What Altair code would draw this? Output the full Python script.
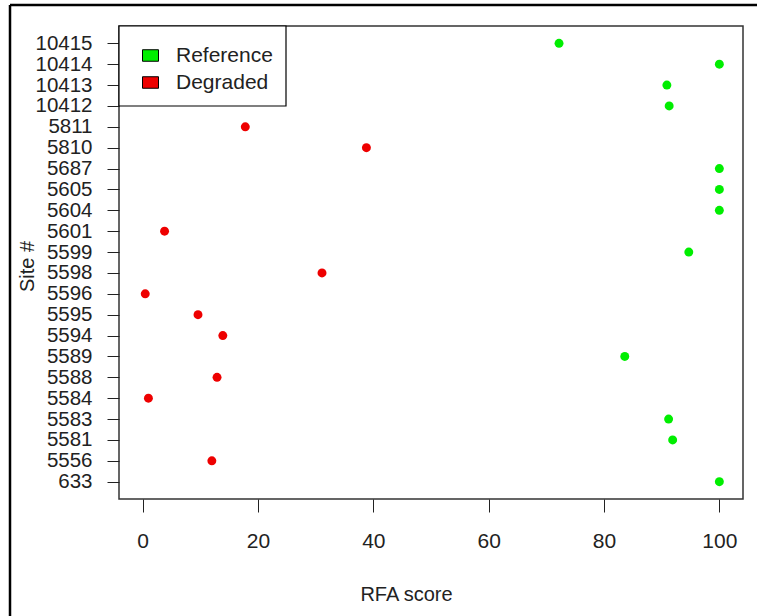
import altair as alt
import pandas as pd

# Sites listed top to bottom, with RFA score and condition class
sites = ["10415", "10414", "10413", "10412", "5811", "5810", "5687", "5605",
         "5604", "5601", "5599", "5598", "5596", "5595", "5594", "5589",
         "5588", "5584", "5583", "5581", "5556", "633"]
scores = [72.2, 100, 90.9, 91.3, 17.8, 38.8, 100, 100,
          100, 3.8, 94.7, 31.1, 0.45, 9.6, 13.9, 83.6,
          12.9, 1.0, 91.2, 91.9, 12.0, 100]
groups = ["Reference", "Reference", "Reference", "Reference", "Degraded", "Degraded",
          "Reference", "Reference", "Reference", "Degraded", "Reference", "Degraded",
          "Degraded", "Degraded", "Degraded", "Reference", "Degraded", "Degraded",
          "Reference", "Reference", "Degraded", "Reference"]

x_ticks = [0, 20, 40, 60, 80, 100]
legend_labels = ["Reference", "Degraded"]
legend_colors = ["#00ee00", "#ee0000"]

df = pd.DataFrame({"site": sites, "score": scores, "group": groups})

FONT = "Liberation Sans"

points = alt.Chart(df).mark_circle(size=80, opacity=1).encode(
    x=alt.X(
        "score:Q",
        scale=alt.Scale(domain=[-4.1, 104.1], nice=False, zero=False),
        axis=alt.Axis(
            values=x_ticks, title="RFA score", grid=False, domain=False,
            tickSize=13, tickColor="#222", labelPadding=18,
            labelFontSize=21, labelColor="#222", labelFont=FONT,
            titleFontSize=20, titleFont=FONT, titleColor="#222", titleFontWeight="normal",
            titleX=287, titleY=95, titleBaseline="middle", titleAnchor="middle",
        ),
    ),
    y=alt.Y(
        "site:N",
        sort=sites,
        scale=alt.Scale(type="point", padding=0.83),
        axis=alt.Axis(
            title="Site #", grid=False, domain=False,
            tickSize=12, tickColor="#222", labelPadding=15,
            labelFontSize=20.5, labelColor="#222", labelFont=FONT,
            labelBaseline="middle", labelOverlap=False,
            titleFontSize=20, titleFont=FONT, titleColor="#222", titleFontWeight="normal",
            titleAngle=270, titleX=-92, titleY=240, titleBaseline="middle",
            titleAlign="center",
        ),
    ),
    color=alt.Color(
        "group:N",
        scale=alt.Scale(domain=legend_labels, range=legend_colors),
        legend=alt.Legend(
            title=None, orient="none", legendX=0, legendY=2,
            symbolType="M-1,-0.72L1,-0.72L1,0.72L-1,0.72Z", symbolSize=256,
            symbolStrokeColor="#000", symbolStrokeWidth=1, symbolOpacity=1,
            symbolOffset=4,
            labelFontSize=21, labelFont=FONT, labelColor="#222", labelOffset=15,
            rowPadding=5, padding=17,
        ),
    ),
)

frame_data = alt.Data(values=[{"k": 0}])

# Box behind the legend entries
legend_box = alt.Chart(frame_data).mark_rect(
    fill="white", stroke="#000", strokeWidth=1.2
).encode(x=alt.value(0), x2=alt.value(167), y=alt.value(0), y2=alt.value(80))

# Outer frame around the figure (top and left edges)
frame_top = alt.Chart(frame_data).mark_rule(color="#000", strokeWidth=2.5).encode(
    x=alt.value(-109), x2=alt.value(640), y=alt.value(-21)
)
frame_left = alt.Chart(frame_data).mark_rule(color="#000", strokeWidth=2.5).encode(
    x=alt.value(-109), y=alt.value(-21), y2=alt.value(592)
)

chart = alt.layer(legend_box, points, frame_top, frame_left).properties(
    width=624, height=473,
    autosize=alt.AutoSizeParams(type="none"),
    padding={"left": 119, "top": 26, "right": 14, "bottom": 117},
    background="white",
).configure_view(stroke="#333", strokeWidth=1.5)

chart.save("out.html", embed_options={"renderer": "svg", "actions": False})
